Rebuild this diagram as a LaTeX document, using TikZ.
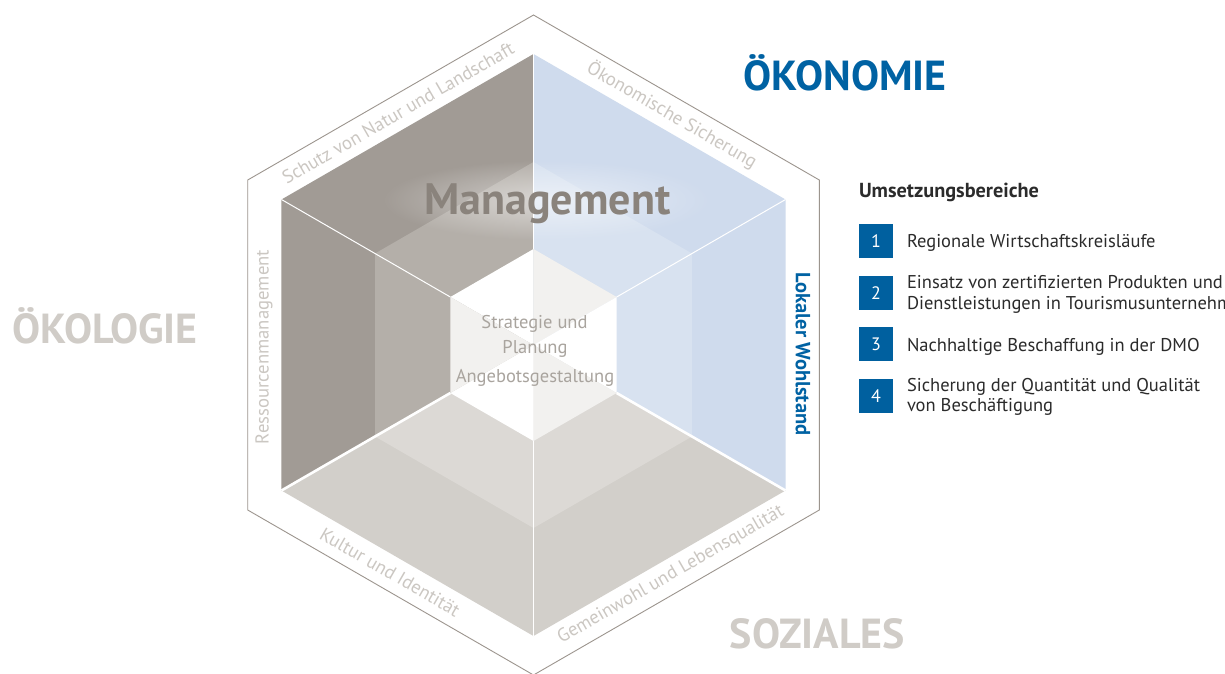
\documentclass[tikz,border=0pt]{standalone}
\usepackage{fontspec}
\setmainfont{PT Sans}
\usetikzlibrary{calc,fadings}
\tikzfading[name=softglow, inner color=transparent!0, outer color=transparent!100]
\definecolor{frameline}{HTML}{9C958E}
\definecolor{leftO}{HTML}{A19B95}
\definecolor{leftM}{HTML}{B4AFA9}
\definecolor{rightO}{HTML}{CFDBED}
\definecolor{rightM}{HTML}{D8E2F0}
\definecolor{floorO}{HTML}{D2CFCA}
\definecolor{floorM}{HTML}{DCD9D5}
\definecolor{innerG}{HTML}{F2F1EF}
\definecolor{edgegray}{HTML}{CBC7C2}
\definecolor{dmoblue}{HTML}{0062A3}
\definecolor{sqblue}{HTML}{00609F}
\definecolor{mgmt}{HTML}{8A837C}
\definecolor{centergray}{HTML}{A9A49E}
\definecolor{biggray}{HTML}{D0CCC7}
\definecolor{darktext}{HTML}{2B2B2B}
\tikzset{
  txt/.style={inner sep=0pt, outer sep=0pt},
  edgelabel/.style={txt, text=edgegray, font=\fontsize{18.7}{20}\selectfont},
  bigword/.style={txt, anchor=base, font=\fontsize{42}{46}\selectfont\bfseries},
  listtext/.style={txt, anchor=base west, text=darktext, font=\fontsize{18.5}{19}\selectfont},
  numbox/.style={fill=sqblue, minimum width=34pt, minimum height=34pt, inner sep=0pt,
                 text=white, font=\fontsize{18}{20}\selectfont},
  whiteline/.style={draw=white, line width=1pt},
  thickwhite/.style={draw=white, line width=2.6pt}
}
\begin{document}
\begin{tikzpicture}[x=1pt,y=-1pt]
\useasboundingbox (0,0) rectangle (1225,673);
\fill[white] (0,0) rectangle (1225,673);
\coordinate (C) at (533.5,345);
\foreach \n/\r in {F/330,O/291,M/183,S/96}{
  \coordinate (\n T)  at ($(C)+(-90:\r)$);
  \coordinate (\n UR) at ($(C)+(-30:\r)$);
  \coordinate (\n LR) at ($(C)+(30:\r)$);
  \coordinate (\n B)  at ($(C)+(90:\r)$);
  \coordinate (\n LL) at ($(C)+(150:\r)$);
  \coordinate (\n UL) at ($(C)+(210:\r)$);
}
% outer faces
\fill[leftO]  (OT) -- (OUL) -- (OLL) -- (C) -- cycle;
\fill[rightO] (OT) -- (OUR) -- (OLR) -- (C) -- cycle;
\fill[floorO] (OLL) -- (OB) -- (OLR) -- (C) -- cycle;
% middle faces
\fill[leftM]  (MT) -- (MUL) -- (MLL) -- (C) -- cycle;
\fill[rightM] (MT) -- (MUR) -- (MLR) -- (C) -- cycle;
\fill[floorM] (MLL) -- (MB) -- (MLR) -- (C) -- cycle;
% inner hexagon
\fill[white]  (ST) -- (SUL) -- (C) -- cycle;
\fill[innerG] (ST) -- (SUR) -- (C) -- cycle;
\fill[white]  (SUR) -- (SLR) -- (C) -- cycle;
\fill[innerG] (SLR) -- (SB) -- (C) -- cycle;
\fill[white]  (SB) -- (SLL) -- (C) -- cycle;
\fill[innerG] (SLL) -- (SUL) -- (C) -- cycle;
% separating lines
\path[whiteline] (OUL) -- (SUL);
\path[whiteline] (OUR) -- (SUR);
\path[whiteline] (OT) -- (ST);
\path[whiteline] (OB) -- (SB);
\path[thickwhite] (OLL) -- (SLL);
\path[thickwhite] (OLR) -- (SLR);
% frame
\draw[frameline, line width=0.9pt, line join=miter] (FT) -- (FUR) -- (FLR) -- (FB) -- (FLL) -- (FUL) -- cycle;

% edge labels
\node[edgelabel, rotate=30]  (l1) at (398,113) {Schutz von Natur und Landschaft};
\node[edgelabel, rotate=-30] (l2) at (672,115) {Ökonomische Sicherung};
\node[edgelabel, rotate=90]  (l3) at (264,347) {Ressourcenmanagement};
\node[txt, rotate=-90, text=dmoblue, font=\fontsize{20.5}{22}\selectfont\bfseries] (l4) at (803,354) {Lokaler Wohlstand};
\node[edgelabel, rotate=-30] (l5) at (390,572) {Kultur und Identität};
\node[edgelabel, rotate=30]  (l6) at (671,575) {Gemeinwohl und Lebensqualität};

% Management with soft glow
\coordinate (mg) at (547.5,214);
\fill[white, opacity=0.5, path fading=softglow] (547.5,200) ellipse [x radius=165, y radius=40];
\node[txt, anchor=base, text=mgmt, font=\fontsize{44}{48}\selectfont\bfseries] (mgmtnode) at (mg) {Management};

% center text
\node[txt, anchor=base, text=centergray, font=\fontsize{18.5}{20}\selectfont] (c1) at (534.5,328) {Strategie und};
\node[txt, anchor=base, text=centergray, font=\fontsize{18.5}{20}\selectfont] (c2) at (535,353) {Planung};
\node[txt, anchor=base, text=centergray, font=\fontsize{18.5}{20}\selectfont] (c3) at (535,382) {Angebotsgestaltung};

% big words
\node[bigword, text=dmoblue] (oek) at (845,90) {ÖKONOMIE};
\node[bigword, text=biggray] (oko) at (105,343) {ÖKOLOGIE};
\node[bigword, text=biggray] (soz) at (817.5,648) {SOZIALES};

% legend
\node[txt, anchor=base west, text=darktext, font=\fontsize{20.3}{21}\selectfont\bfseries] (ub) at (859,197) {Umsetzungsbereiche};
\node[numbox] (n1) at (876,241) {1};
\node[numbox] (n2) at (876,293) {2};
\node[numbox] (n3) at (876,344) {3};
\node[numbox] (n4) at (876,396) {4};
\node[listtext] (t1) at (907,247) {Regionale Wirtschaftskreisläufe};
\node[listtext] (t2a) at (907,288) {Einsatz von zertifizierten Produkten und};
\node[listtext] (t2b) at (907,309) {Dienstleistungen in Tourismusunternehmen};
\node[listtext] (t3) at (907,351) {Nachhaltige Beschaffung in der DMO};
\node[listtext] (t4a) at (907,391.5) {Sicherung der Quantität und Qualität};
\node[listtext] (t4b) at (907,411.5) {von Beschäftigung};
\end{tikzpicture}
\end{document}
